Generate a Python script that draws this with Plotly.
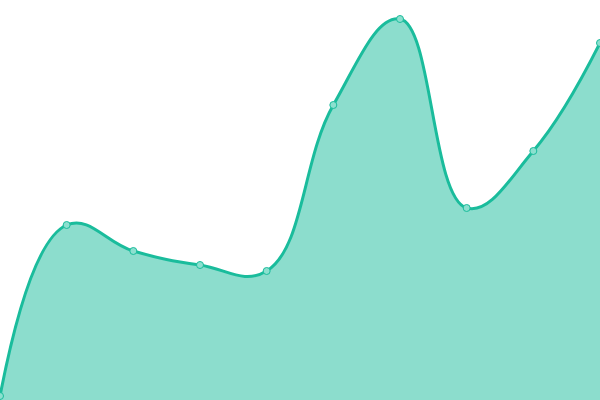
import plotly.graph_objects as go

# Series values (plot coordinates 0..400)
x_vals = [0, 1, 2, 3, 4, 5, 6, 7, 8, 9]
y_vals = [4, 175, 149, 135, 129, 295, 381, 192, 249, 357]

fig = go.Figure()

fig.add_trace(go.Scatter(
    x=x_vals,
    y=y_vals,
    mode='lines+markers',
    line=dict(color='#1abc9c', width=3, shape='spline', smoothing=1.2),
    fill='tozeroy',
    fillcolor='rgba(26,188,156,0.5)',
    marker=dict(size=7, color='#8ce0cf', line=dict(color='#1abc9c', width=1)),
    hoverinfo='skip'
))

fig.update_layout(
    width=600,
    height=400,
    margin=dict(l=0, r=0, t=0, b=0),
    paper_bgcolor='white',
    plot_bgcolor='white',
    showlegend=False,
    xaxis=dict(range=[0, 9], visible=False),
    yaxis=dict(range=[0, 400], visible=False)
)

# drop the page's default body margin so the plot sits at the window corner
fig.write_html("out.html",
               config={'displayModeBar': False},
               post_script="document.body.style.margin='0';document.body.style.overflow='hidden';")
